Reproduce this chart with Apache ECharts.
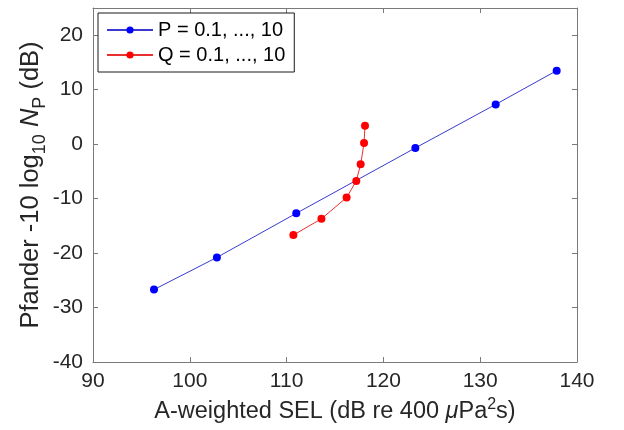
<!DOCTYPE html>
<html>
<head>
<meta charset="utf-8">
<script src="https://cdn.jsdelivr.net/npm/echarts@6/dist/echarts.min.js"></script>
<style>
  html, body { margin: 0; padding: 0; background: #fff; }
  #chart { width: 624px; height: 430px; }
</style>
</head>
<body>
<div id="chart"></div>
<script>
// Pfander level versus A-weighted SEL, swept over P and over Q
const pSel   = [96.3, 102.8, 111.0, 123.3, 131.6, 137.9];
const pLevel = [-26.7, -20.8, -12.7, -0.7, 7.3, 13.5];
const qSel   = [110.7, 113.6, 116.2, 117.2, 117.65, 118.0, 118.1];
const qLevel = [-16.7, -13.7, -9.8, -6.75, -3.7, 0.2, 3.4];

const seriesNames = ['P = 0.1, ..., 10', 'Q = 0.1, ..., 10'];
const xRange = { min: 90, max: 140, step: 10 };
const yRange = { min: -40, max: 25, step: 10 };

const FONT = '"Liberation Sans", Arial, Helvetica, sans-serif';
const AXIS_COLOR = '#7a7a7a';
const TEXT_COLOR = '#262626';

const zip = (xs, ys) => xs.map((x, i) => [x, ys[i]]);

const boxAxis = (extra) => Object.assign({
  type: 'value',
  axisLine: { show: true, onZero: false, lineStyle: { color: AXIS_COLOR, width: 1 } },
  axisTick: { show: true, inside: true, length: 5, lineStyle: { color: AXIS_COLOR } },
  splitLine: { show: false },
  axisLabel: { show: false }
}, extra);

const chart = echarts.init(document.getElementById('chart'), null, { renderer: 'canvas' });

chart.setOption({
  animation: false,
  backgroundColor: '#ffffff',
  grid: { left: 93, right: 47, top: 8, bottom: 68 },
  legend: {
    left: 98, top: 13,
    orient: 'vertical',
    data: seriesNames,
    itemWidth: 46, itemHeight: 9, itemGap: 3,
    padding: [6, 9, 6, 8],
    borderColor: '#1a1a1a', borderWidth: 1,
    backgroundColor: '#ffffff',
    textStyle: { fontFamily: FONT, fontSize: 20, lineHeight: 22, color: '#000' }
  },
  xAxis: [
    boxAxis({
      position: 'bottom',
      min: xRange.min, max: xRange.max, interval: xRange.step,
      axisLabel: { show: true, fontFamily: FONT, fontSize: 21, color: TEXT_COLOR, margin: 9 },
      name: '{a|A-weighted SEL (dB re 400 }{i|μ}{a|Pa}{sup|2}{a|s)}',
      nameLocation: 'middle', nameGap: 34,
      nameTextStyle: {
        rich: {
          a: { fontFamily: FONT, fontSize: 23.5, color: TEXT_COLOR, lineHeight: 30 },
          i: { fontFamily: FONT, fontSize: 23.5, fontStyle: 'italic', color: TEXT_COLOR, lineHeight: 30 },
          sup: { fontFamily: FONT, fontSize: 16, color: TEXT_COLOR, verticalAlign: 'top', lineHeight: 30 }
        }
      }
    }),
    boxAxis({ position: 'top', min: xRange.min, max: xRange.max, interval: xRange.step })
  ],
  yAxis: [
    boxAxis({
      position: 'left',
      min: yRange.min, max: yRange.max, interval: yRange.step,
      axisLabel: { show: true, showMaxLabel: false, fontFamily: FONT, fontSize: 21, color: TEXT_COLOR, margin: 10 },
      name: '{a|Pfander -10 log}{s|10}{a| }{i|N}{s|P}{a| (dB)}',
      nameLocation: 'middle', nameRotate: 90, nameGap: 44,
      nameMoveOverlap: false,
      nameTextStyle: {
        rich: {
          a: { fontFamily: FONT, fontSize: 25.5, color: TEXT_COLOR, lineHeight: 36 },
          i: { fontFamily: FONT, fontSize: 25.5, fontStyle: 'italic', color: TEXT_COLOR, lineHeight: 36 },
          s: { fontFamily: FONT, fontSize: 18, color: TEXT_COLOR, lineHeight: 36, verticalAlign: 'bottom' }
        }
      }
    }),
    boxAxis({ position: 'right', min: yRange.min, max: yRange.max, interval: yRange.step })
  ],
  series: [
    {
      name: seriesNames[0], type: 'line',
      data: zip(pSel, pLevel),
      symbol: 'circle', symbolSize: 8,
      lineStyle: { color: '#3a3ad0', width: 1 },
      itemStyle: { color: '#0000ff' }
    },
    {
      name: seriesNames[1], type: 'line',
      data: zip(qSel, qLevel),
      symbol: 'circle', symbolSize: 8,
      lineStyle: { color: '#e83030', width: 1 },
      itemStyle: { color: '#ff0000' }
    }
  ]
});
</script>
</body>
</html>
